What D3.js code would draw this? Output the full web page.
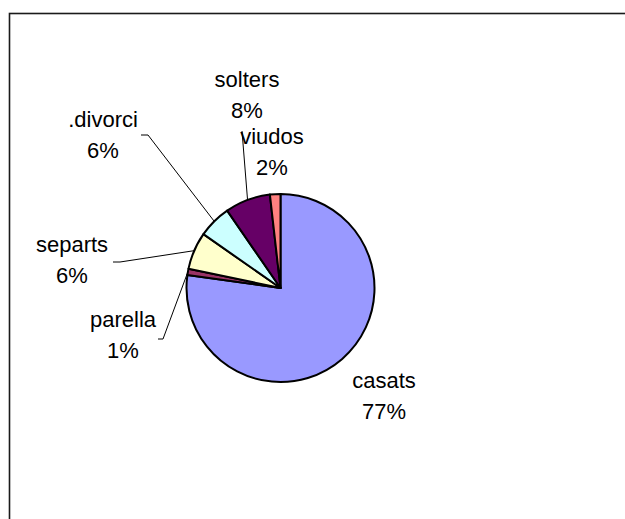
<!DOCTYPE html>
<html>
<head>
<meta charset="utf-8">
<script src="https://cdn.jsdelivr.net/npm/d3@7"></script>
<style>
  html, body { margin: 0; padding: 0; background: #fff; }
  svg { display: block; }
  text { font-family: "Liberation Sans", Arial, sans-serif; }
</style>
</head>
<body>
<script>
// ---- data ----
const categories = ["casats", "parella", "separts", ".divorci", "solters", "viudos"];
const values = [77.2, 1.1, 6.4, 5.7, 7.8, 1.8];

// ---- layout / style (kept apart from the data) ----
const colors = ["#9999FF", "#993366", "#FFFFCC", "#CCFFFF", "#660066", "#FF8080"];
// label placement: centre x, first-line baseline, optional leader line end/elbow
const labelLayout = [
  { x: 384, y: 388 },
  { x: 123, y: 327, end: [158, 339], elbow: [163, 339] },
  { x: 72,  y: 252, end: [113, 262], elbow: [120, 262] },
  { x: 103, y: 127, end: [141, 135], elbow: [148, 135] },
  { x: 247, y: 87,  end: [242, 131], elbow: [242, 131] },
  { x: 272, y: 144 }
];

const W = 625, H = 519;
const cx = 280.5, cy = 288, R = 94;
const lineGap = 31;

const svg = d3.select("body").append("svg")
  .attr("width", W).attr("height", H);

svg.append("rect").attr("width", W).attr("height", H).attr("fill", "#fff");

// outer chart-area border (continues past the window edges)
svg.append("rect")
  .attr("x", 9.5).attr("y", 13.5)
  .attr("width", 700).attr("height", 600)
  .attr("fill", "none").attr("stroke", "#1a1a1a").attr("stroke-width", 1.6);

const total = d3.sum(values);
const data = categories.map((c, i) => ({ name: c, value: values[i], i }));

const pie = d3.pie().sort(null).value(d => d.value).startAngle(0).endAngle(2 * Math.PI);
const arcs = pie(data);
const arc = d3.arc().innerRadius(0).outerRadius(R);

const g = svg.append("g").attr("transform", `translate(${cx},${cy})`);

g.selectAll("path.slice")
  .data(arcs)
  .join("path")
  .attr("class", "slice")
  .attr("d", arc)
  .attr("fill", d => colors[d.data.i])
  .attr("stroke", "#000")
  .attr("stroke-width", 2)
  .attr("stroke-linejoin", "round");

// leader lines
arcs.forEach(a => {
  const L = labelLayout[a.data.i];
  if (!L.end) return;
  const mid = (a.startAngle + a.endAngle) / 2;
  const sx = cx + R * Math.sin(mid);
  const sy = cy - R * Math.cos(mid);
  svg.append("polyline")
    .attr("points", [[sx, sy], L.elbow, L.end].map(p => p.join(",")).join(" "))
    .attr("fill", "none")
    .attr("stroke", "#000")
    .attr("stroke-width", 1);
});

// labels
arcs.forEach(a => {
  const L = labelLayout[a.data.i];
  const pct = Math.round(a.data.value / total * 100) + "%";
  const t = svg.append("text")
    .attr("text-anchor", "middle")
    .attr("font-size", 22)
    .attr("fill", "#000");
  t.append("tspan").attr("x", L.x).attr("y", L.y).text(a.data.name);
  t.append("tspan").attr("x", L.x).attr("y", L.y + lineGap).text(pct);
});
</script>
</body>
</html>
